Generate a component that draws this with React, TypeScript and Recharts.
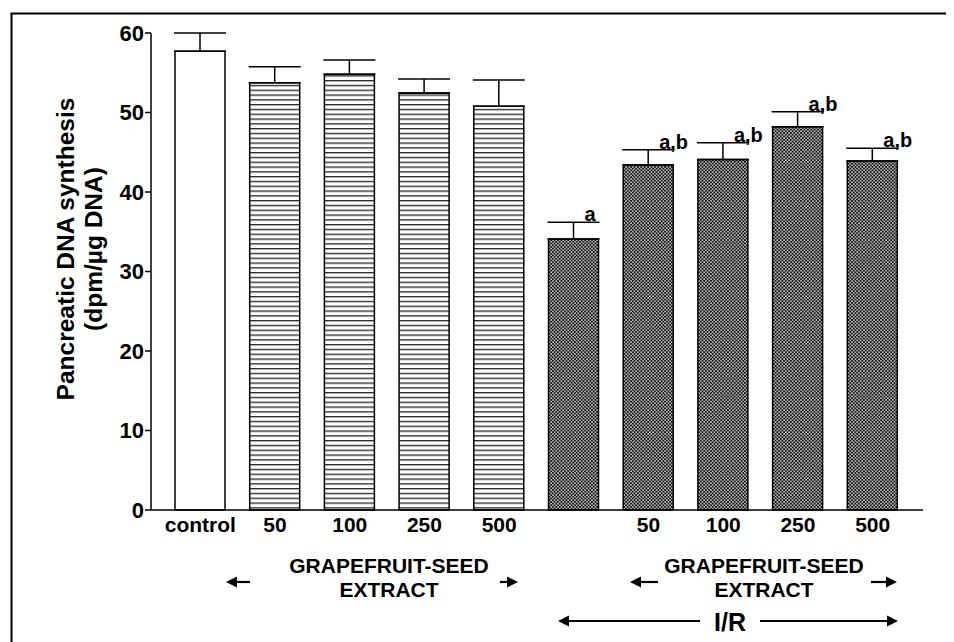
import { BarChart, Bar, XAxis, YAxis, Cell, ErrorBar, LabelList } from "recharts";

const KEYS = ["control", "e50", "e100", "e250", "e500", "ir", "ir50", "ir100", "ir250", "ir500"];
const TICK_LABELS = ["control", "50", "100", "250", "500", "", "50", "100", "250", "500"];
const MEANS = [57.7, 53.75, 54.8, 52.45, 50.8, 34.1, 43.4, 44.1, 48.2, 43.9];
const SEM = [2.3, 2.0, 1.8, 1.75, 3.3, 2.1, 1.9, 2.1, 1.9, 1.6];
const SIG = ["", "", "", "", "", "a", "a,b", "a,b", "a,b", "a,b"];
const FILLS = ["#fff", "url(#hstripe)", "url(#hstripe)", "url(#hstripe)", "url(#hstripe)",
  "url(#check)", "url(#check)", "url(#check)", "url(#check)", "url(#check)"];
const Y_TICKS = [0, 10, 20, 30, 40, 50, 60];

const data = KEYS.map((k, i) => ({
  key: k,
  value: MEANS[i],
  err: [0, SEM[i]],
  sig: SIG[i],
}));

const FONT = "'Liberation Sans', Arial, Helvetica, sans-serif";

// significance letters sit just right of the error-bar cap
function SigLabel(props: any) {
  const { x, y, width, height, index } = props;
  const label = SIG[index];
  if (!label) return null;
  const pxPerUnit = Number(height) / MEANS[index];
  const capY = Number(y) - SEM[index] * pxPerUnit;
  return (
    <text x={Number(x) + Number(width) / 2 + 11} y={capY - 1} fontSize={20} fontWeight="bold"
      fontFamily={FONT} fill="#000">
      {label}
    </text>
  );
}

function Arrow({ x1, x2, y }: { x1: number; x2: number; y: number }) {
  // arrowhead at x2
  const dir = x2 > x1 ? 1 : -1;
  const head = 11;
  return (
    <g>
      <line x1={x1} y1={y} x2={x2 - dir * head} y2={y} stroke="#000" strokeWidth={2.2} />
      <polygon points={`${x2},${y} ${x2 - dir * head},${y - 5.5} ${x2 - dir * head},${y + 5.5}`} fill="#000" />
    </g>
  );
}

export default function App() {
  return (
    <div style={{ position: "relative", width: 946, height: 634, overflow: "hidden", fontFamily: FONT }}>
      <BarChart width={946} height={634} data={data} margin={{ top: 25, right: 31, bottom: 102, left: 83 }}>
        <defs>
          <pattern id="hstripe" width={8} height={4.8} patternUnits="userSpaceOnUse">
            <rect width={8} height={4.8} fill="#fff" />
            <line x1={0} y1={0.7} x2={8} y2={0.7} stroke="#222" strokeWidth={1.3} />
          </pattern>
          <pattern id="check" width={3.4} height={3.4} patternUnits="userSpaceOnUse">
            <rect width={3.4} height={3.4} fill="#111" />
            <rect x={0.2} y={0.2} width={1.4} height={1.4} fill="#fff" />
            <rect x={1.9} y={1.9} width={1.4} height={1.4} fill="#fff" />
          </pattern>
        </defs>
        <XAxis
          dataKey="key"
          height={30}
          padding={{ left: 12, right: 13 }}
          tickLine={false}
          tickSize={6}
          tickMargin={1}
          axisLine={{ stroke: "#000", strokeWidth: 1.5 }}
          tick={{ fill: "#000", fontSize: 21, fontWeight: "bold", fontFamily: FONT }}
          tickFormatter={(_v: any, i: number) => TICK_LABELS[i]}
          interval={0}
        />
        <YAxis
          width={60}
          domain={[0, 60]}
          ticks={Y_TICKS}
          tickSize={6}
          tickMargin={1}
          axisLine={{ stroke: "#000", strokeWidth: 1.5 }}
          tickLine={{ stroke: "#000", strokeWidth: 1.5 }}
          tick={{ fill: "#000", fontSize: 22, fontWeight: "bold", fontFamily: FONT }}
        />
        <Bar dataKey="value" barSize={50} stroke="#000" strokeWidth={1.5} isAnimationActive={false}>
          {data.map((_, i) => (
            <Cell key={`cell-${i}`} fill={FILLS[i]} />
          ))}
          <ErrorBar dataKey="err" width={26} stroke="#000" strokeWidth={1.5} direction="y" isAnimationActive={false} />
          <LabelList dataKey="sig" content={SigLabel} />
        </Bar>
      </BarChart>

      <svg width={946} height={634} style={{ position: "absolute", left: 0, top: 0, pointerEvents: "none" }}>
        {/* frame */}
        <path d="M3.5,640 V5.5 H950" fill="none" stroke="#000" strokeWidth={2} />

        {/* y axis title */}
        <g fontFamily={FONT} fontWeight="bold" fontSize={24.5} fill="#000" textAnchor="middle">
          <text transform="translate(66,241) rotate(-90)">Pancreatic DNA synthesis</text>
          <text transform="translate(94,241) rotate(-90)">(dpm/µg DNA)</text>
        </g>

        {/* group annotations */}
        <g fontFamily={FONT} fontWeight="bold" fontSize={21} fill="#000" textAnchor="middle">
          <text x={381} y={565}>GRAPEFRUIT-SEED</text>
          <text x={381} y={589}>EXTRACT</text>
          <text x={756} y={565}>GRAPEFRUIT-SEED</text>
          <text x={756} y={589}>EXTRACT</text>
          <text x={722} y={623} fontSize={25}>I/R</text>
        </g>
        <Arrow x1={242} x2={218} y={574} />
        <Arrow x1={492} x2={510} y={574} />
        <Arrow x1={650} x2={622} y={574} />
        <Arrow x1={863} x2={889} y={574} />
        <Arrow x1={692} x2={550} y={613} />
        <Arrow x1={752} x2={890} y={613} />
      </svg>
    </div>
  );
}
